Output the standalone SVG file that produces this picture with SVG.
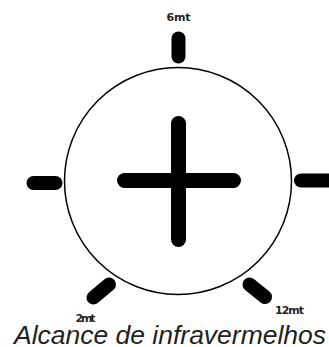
<svg xmlns="http://www.w3.org/2000/svg" width="329" height="347" viewBox="0 0 329 347">
<style>
.tick{stroke:#000;stroke-width:14;stroke-linecap:round;fill:none}
.cross{stroke:#000;stroke-width:15;stroke-linecap:round;fill:none}
.lbl{font-family:"DejaVu Sans","Liberation Sans",sans-serif;font-weight:bold;font-size:11px;fill:#222;text-anchor:middle}
.title{font-family:"Liberation Sans",Arial,sans-serif;font-style:italic;font-size:25px;fill:#222}
</style>
<rect width="329" height="347" fill="#fff"/>
<g id="dial">
<circle cx="178" cy="181" r="113.5" fill="none" stroke="#000" stroke-width="1.5"/>
</g>
<g id="cross">
<line class="cross" x1="178.5" y1="123.5" x2="178.5" y2="239.5"/>
<line class="cross" x1="124.5" y1="180.5" x2="233.5" y2="180.5"/>
</g>
<g id="tick-6mt">
<line class="tick" x1="178.5" y1="38.5" x2="178.5" y2="56.5"/>
<text class="lbl" x="178.5" y="21" textLength="24">6mt</text>
</g>
<g id="tick-left">
<line class="tick" x1="33.5" y1="183" x2="55.5" y2="183"/>
</g>
<g id="tick-right">
<line class="tick" x1="301" y1="180.5" x2="335" y2="180.5"/>
</g>
<g id="tick-2mt">
<line class="tick" x1="109" y1="284.5" x2="93.5" y2="297.5"/>
<text class="lbl" x="85.5" y="321.5" textLength="20">2mt</text>
</g>
<g id="tick-12mt">
<line class="tick" x1="249.5" y1="284.5" x2="265" y2="297"/>
<text class="lbl" x="289.5" y="314" textLength="29">12mt</text>
</g>
<text class="title" x="14" y="344" textLength="312" lengthAdjust="spacingAndGlyphs">Alcance de infravermelhos</text>
</svg>
